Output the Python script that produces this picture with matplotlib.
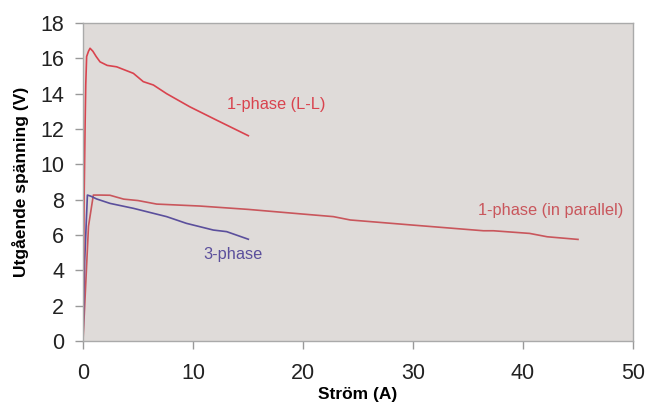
import matplotlib
matplotlib.use("Agg")
import matplotlib.pyplot as plt

# 1-phase (L-L)
ll_x = [0.0, 0.1, 0.18, 0.25, 0.33, 0.5, 0.64, 0.9, 1.2, 1.55, 2.2, 3.06, 4.58, 5.48, 6.4, 7.6, 9.7, 12.15, 15.03]
ll_y = [0.0, 8.0, 11.8, 14.5, 16.1, 16.4, 16.57, 16.4, 16.1, 15.8, 15.6, 15.52, 15.15, 14.68, 14.49, 14.0, 13.26, 12.5, 11.62]

# 1-phase (in parallel)
par_x = [0.0, 0.5, 0.94, 1.6, 2.45, 3.7, 5.0, 6.7, 10.6, 15.0, 19.7, 22.76, 24.3, 30.0, 36.4, 37.3, 40.6, 42.2, 45.0]
par_y = [0.0, 6.5, 8.26, 8.26, 8.25, 8.03, 7.95, 7.75, 7.64, 7.45, 7.2, 7.04, 6.85, 6.56, 6.24, 6.24, 6.09, 5.9, 5.75]

# 3-phase
tp_x = [0.0, 0.15, 0.4, 0.7, 1.24, 2.45, 4.58, 7.6, 9.4, 11.85, 13.06, 15.03]
tp_y = [0.0, 4.5, 8.26, 8.2, 8.04, 7.79, 7.51, 7.04, 6.66, 6.28, 6.19, 5.76]

x_ticks = [0, 10, 20, 30, 40, 50]
y_ticks = [0, 2, 4, 6, 8, 10, 12, 14, 16, 18]

c_ll = "#d9434e"
c_par = "#c9565c"
c_tp = "#5b4f9c"

plt.rcParams['font.family'] = ['Liberation Sans', 'DejaVu Sans']

fig = plt.figure(figsize=(6.48, 4.03), dpi=100)
ax = fig.add_axes([83/648, 1-341/403, 550/648, 318/403])
ax.set_facecolor("#dfdbd9")

ax.plot(par_x, par_y, color=c_par, lw=1.2)
ax.plot(tp_x, tp_y, color=c_tp, lw=1.2)
ax.plot(ll_x, ll_y, color=c_ll, lw=1.2)

ax.text(17.6, 13.36, "1-phase (L-L)", color=c_ll, fontsize=11.8, ha="center", va="center")
ax.text(35.9, 7.41, "1-phase (in parallel)", color=c_par, fontsize=11.8, ha="left", va="center")
ax.text(10.9, 4.87, "3-phase", color=c_tp, fontsize=11.8, ha="left", va="center")

ax.set_xlim(0, 50)
ax.set_ylim(0, 18)
ax.set_xticks(x_ticks)
ax.set_yticks(y_ticks)
ax.tick_params(axis="both", labelsize=15.5, colors="#999999", labelcolor="#222222", length=5.5, width=1)
ax.tick_params(axis="x", pad=10)
ax.tick_params(axis="y", pad=8)
for s in ax.spines.values():
    s.set_color("#aaaaaa")
    s.set_linewidth(1)

ax.set_xlabel("Ström (A)", fontsize=12.5, fontweight="bold", labelpad=2.5)
ax.set_ylabel("Utgående spänning (V)", fontsize=12.5, fontweight="bold", labelpad=8)

fig.savefig("out.png", dpi=100)
